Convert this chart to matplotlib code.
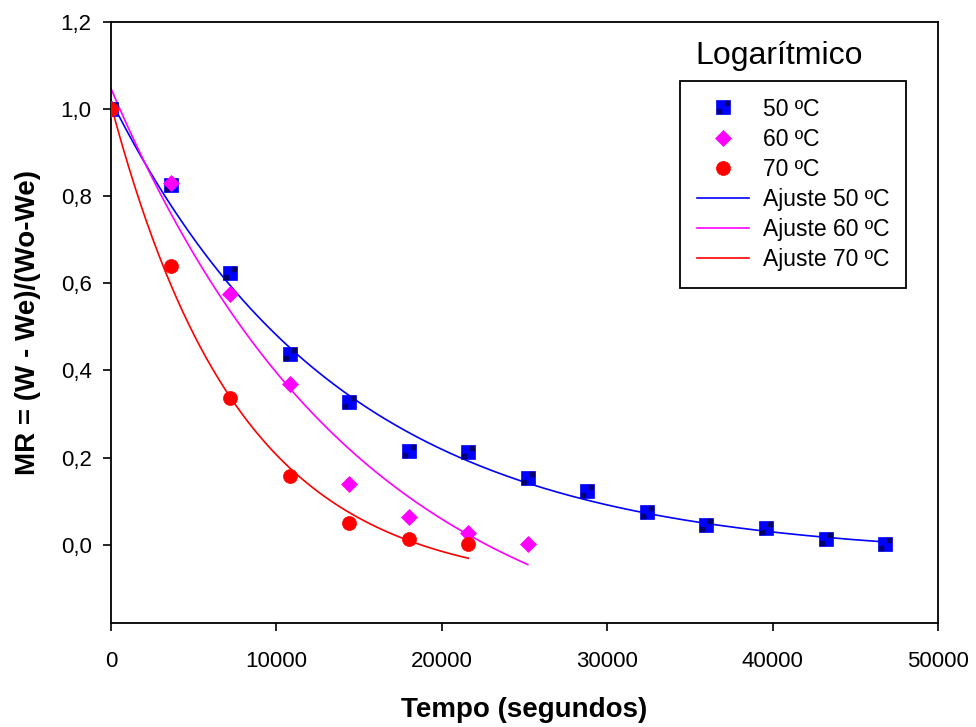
import numpy as np
import matplotlib
matplotlib.use("Agg")
import matplotlib.pyplot as plt
from matplotlib.path import Path

plt.rcParams['font.family'] = ['Liberation Sans', 'DejaVu Sans']

# Drying data: time (s) and moisture ratio
t_50 = [0, 3600, 7200, 10800, 14400, 18000, 21600, 25200, 28800, 32400, 36000, 39600, 43200, 46800]
mr_50 = [1.0, 0.825, 0.623, 0.437, 0.327, 0.215, 0.213, 0.153, 0.122, 0.074, 0.044, 0.037, 0.014, 0.002]

t_60 = [0, 3600, 7200, 10800, 14400, 18000, 21600, 25200]
mr_60 = [1.0, 0.830, 0.575, 0.368, 0.139, 0.063, 0.027, 0.002]

t_70 = [0, 3600, 7200, 10800, 14400, 18000, 21600]
mr_70 = [1.0, 0.639, 0.336, 0.157, 0.049, 0.014, 0.001]

# Logarithmic model MR = a*exp(-k*t) + c, parameters per temperature
fit_labels = ['Ajuste 50 ºC', 'Ajuste 60 ºC', 'Ajuste 70 ºC']
fit_a = [1.05, 1.347, 1.11]
fit_k = [7.2e-5, 6.617e-5, 1.288e-4]
fit_c = [-0.03, -0.30, -0.10]
fit_tmax = [46800, 25200, 21600]

series_labels = ['50 ºC', '60 ºC', '70 ºC']
colors = ['#0000ff', '#ff00ff', '#ff0000']

x_ticks = [0, 10000, 20000, 30000, 40000, 50000]
y_ticks = [0.0, 0.2, 0.4, 0.6, 0.8, 1.0, 1.2]

fig = plt.figure(figsize=(9.76, 7.27), dpi=100)
ax = fig.add_axes([111 / 976, 1 - 623 / 727, (938 - 111) / 976, (623 - 22) / 727])

# fitted curves (behind markers)
fit_handles = []
for a, k, c, tmax, col, lab in zip(fit_a, fit_k, fit_c, fit_tmax, colors, fit_labels):
    tt = np.linspace(0, tmax, 300)
    h, = ax.plot(tt, a * np.exp(-k * tt) + c, color=col, lw=1.2, zorder=2, label=lab)
    fit_handles.append(h)

# square marker with two dark inner squares
dots_verts = [(1.5, 1.5), (6.5, 1.5), (6.5, 6.5), (1.5, 6.5), (1.5, 1.5),
              (-6.5, -6.5), (-1.5, -6.5), (-1.5, -1.5), (-6.5, -1.5), (-6.5, -6.5)]
dots_codes = [Path.MOVETO, Path.LINETO, Path.LINETO, Path.LINETO, Path.CLOSEPOLY] * 2
dots_path = Path(dots_verts, dots_codes)
px = 72 / 100

h50, = ax.plot(t_50, mr_50, ls='none', marker='s', ms=14 * px, mfc=colors[0],
               mec=colors[0], mew=0.5, zorder=3)
h50d, = ax.plot(t_50, mr_50, ls='none', marker=dots_path, ms=13 * px, mfc='#000070',
                mec='#000070', mew=0.3, zorder=3.1)
h60, = ax.plot(t_60, mr_60, ls='none', marker='D', ms=12 * px, mfc=colors[1],
               mec=colors[1], mew=0.5, zorder=4)
h70, = ax.plot(t_70, mr_70, ls='none', marker='o', ms=14 * px, mfc=colors[2],
               mec=colors[2], mew=0.5, zorder=5)

ax.set_xlim(0, 50000)
ax.set_ylim(-0.18, 1.2)
ax.set_xticks(x_ticks)
ax.set_xticklabels([str(v) for v in x_ticks])
ax.set_yticks(y_ticks)
ax.set_yticklabels([f"{v:.1f}".replace('.', ',') for v in y_ticks])
ax.tick_params(axis='both', direction='out', length=6, width=1.2, labelsize=16,
               colors='black', pad=8)
ax.tick_params(axis='x', pad=14)
for s in ax.spines.values():
    s.set_linewidth(1.3)
    s.set_color('black')

ax.set_xlabel('Tempo (segundos)', fontsize=20, fontweight='bold', labelpad=18)
ax.set_ylabel('MR = (W - We)/(Wo-We)', fontsize=20, fontweight='bold', labelpad=14)

# legend with its heading placed above the frame
leg = ax.legend([(h50, h50d), h60, h70] + fit_handles,
                series_labels + fit_labels,
                loc='upper left', bbox_to_anchor=((680 - 111) / 827, 1 - (81 - 22) / 601),
                fontsize=16.5, frameon=True, fancybox=False, edgecolor='black',
                framealpha=1, borderpad=0.72, labelspacing=0.31, handlelength=2.3,
                handletextpad=0.6, borderaxespad=0)
leg.get_frame().set_linewidth(1.3)
fig.text(695 / 976, 1 - 56 / 727, 'Logarítmico', fontsize=23, ha='left', va='center')

fig.savefig('out.png', dpi=100, facecolor='white')
